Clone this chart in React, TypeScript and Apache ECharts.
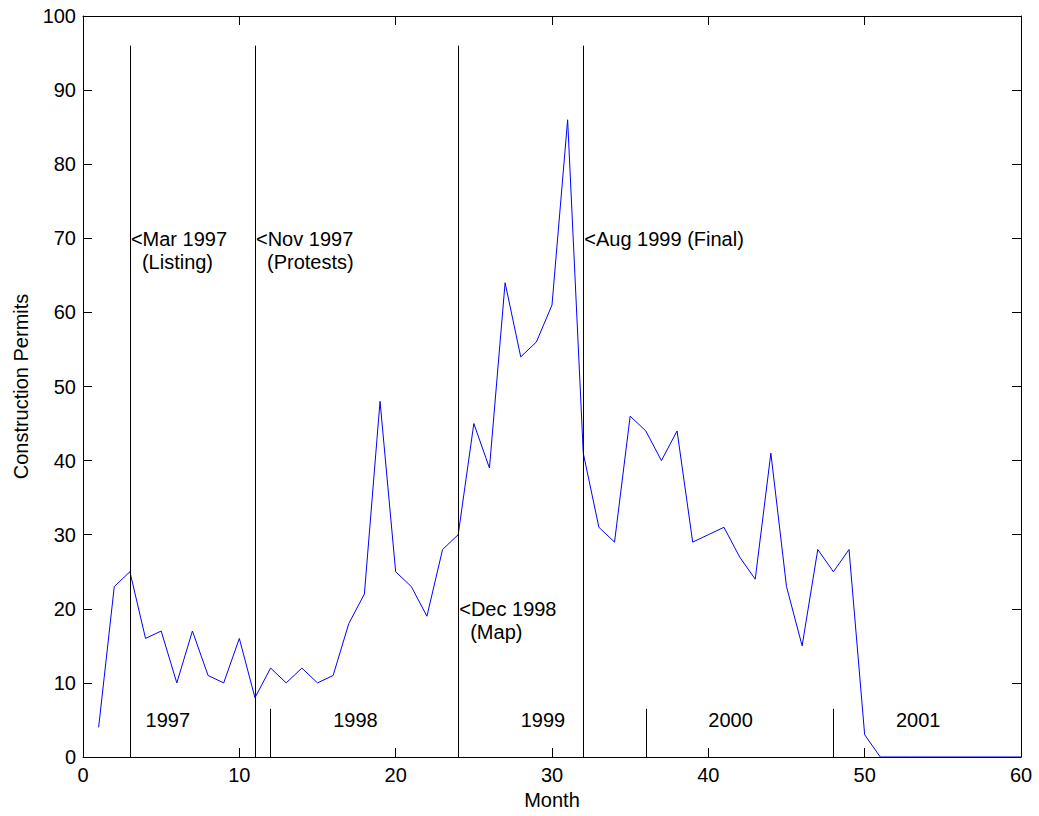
import React, { useEffect, useRef } from "react";
import * as echarts from "echarts";

const months: number[] = Array.from({ length: 60 }, (_, i) => i + 1);
const permits: number[] = [
  4, 23, 25, 16, 17, 10, 17, 11, 10, 16,
  8, 12, 10, 12, 10, 11, 18, 22, 48, 25,
  23, 19, 28, 30, 45, 39, 64, 54, 56, 61,
  86, 41, 31, 29, 46, 44, 40, 44, 29, 30,
  31, 27, 24, 41, 23, 15, 28, 25, 28, 3,
  0, 0, 0, 0, 0, 0, 0, 0, 0, 0,
];

const eventMonths: number[] = [3, 11, 24, 32];
const eventLineTop = 96;
const eventLabelY: number[] = [70, 70, 20, 70];
const eventTitles: string[] = ["<Mar 1997", "<Nov 1997", "<Dec 1998", "<Aug 1999 (Final)"];
const eventNotes: string[] = ["(Listing)", "(Protests)", "(Map)", ""];

const yearBreaks: number[] = [12, 24, 36, 48];
const yearBreakTop = 6.5;
const yearLabels: string[] = ["1997", "1998", "1999", "2000", "2001"];
const yearLabelX: number[] = [4, 16, 28, 40, 52];
const yearLabelY = 5;

const FONT = "'Liberation Sans', Arial, Helvetica, sans-serif";

export default function App() {
  const ref = useRef<HTMLDivElement>(null);
  useEffect(() => {
    if (!ref.current) return;
    document.body.style.margin = "0";
    document.body.style.overflow = "hidden";
    const chart = echarts.init(ref.current, undefined, { renderer: "svg" });
    const lineData = months.map((m, i) => [m, permits[i]]);
    const markLines: any[] = [
      ...eventMonths.map((m) => [{ coord: [m, 0] }, { coord: [m, eventLineTop] }]),
      ...yearBreaks.map((m) => [{ coord: [m, 0] }, { coord: [m, yearBreakTop] }]),
    ];
    const eventData = eventMonths.map((m, i) => ({
      value: [m, eventLabelY[i]],
      title: eventTitles[i],
      note: eventNotes[i],
    }));
    const yearData = yearLabels.map((t, i) => ({ value: [yearLabelX[i], yearLabelY], name: t }));
    const axisCommonX = {
      type: "value" as const,
      min: 0,
      max: 60,
      interval: 10,
      splitLine: { show: false },
      axisLine: { show: true, onZero: false, lineStyle: { color: "#000", width: 1 } },
      axisTick: { show: true, inside: true, length: 9, lineStyle: { color: "#000" } },
    };
    const axisCommonY = {
      type: "value" as const,
      min: 0,
      max: 100,
      interval: 10,
      splitLine: { show: false },
      axisLine: { show: true, onZero: false, lineStyle: { color: "#000", width: 1 } },
      axisTick: { show: true, inside: true, length: 9, lineStyle: { color: "#000" } },
    };
    chart.setOption({
      animation: false,
      backgroundColor: "#fff",
      textStyle: { fontFamily: FONT },
      grid: { left: 83, top: 16, right: 18, bottom: 59, containLabel: false, outerBoundsMode: "none" },
      xAxis: [
        {
          ...axisCommonX,
          position: "bottom",
          name: "Month",
          nameLocation: "middle",
          nameGap: 32,
          nameTextStyle: { color: "#000", fontSize: 20, fontFamily: FONT },
          axisLabel: { color: "#000", fontSize: 20, margin: 8, fontFamily: FONT },
        },
        { ...axisCommonX, position: "top", axisLabel: { show: false } },
      ],
      yAxis: [
        {
          ...axisCommonY,
          position: "left",
          name: "Construction Permits",
          nameLocation: "middle",
          nameGap: 52,
          nameTextStyle: { color: "#000", fontSize: 20, fontFamily: FONT },
          axisLabel: { color: "#000", fontSize: 20, margin: 7, fontFamily: FONT },
        },
        { ...axisCommonY, position: "right", axisLabel: { show: false } },
      ],
      series: [
        {
          type: "line",
          data: lineData,
          symbol: "none",
          lineStyle: { color: "#0000ff", width: 1 },
          itemStyle: { color: "#0000ff" },
          z: 3,
          markLine: {
            silent: true,
            symbol: ["none", "none"],
            label: { show: false },
            lineStyle: { color: "#000", width: 1, type: "solid", opacity: 1 },
            data: markLines,
          },
        },
        {
          type: "scatter",
          data: eventData,
          symbolSize: 0,
          silent: true,
          z: 4,
          itemStyle: { opacity: 1 },
          label: {
            show: true,
            position: [0, 0],
            align: "left",
            verticalAlign: "top",
            offset: [1, -11],
            color: "#000",
            fontSize: 20,
            fontFamily: FONT,
            lineHeight: 23,
            formatter: (p: any) =>
              p.data.note ? `{a|${p.data.title}}\n{b|${p.data.note}}` : `{a|${p.data.title}}`,
            rich: {
              a: { fontSize: 20, lineHeight: 23, color: "#000", fontFamily: FONT },
              b: { fontSize: 20, lineHeight: 23, color: "#000", fontFamily: FONT, padding: [0, 0, 0, 11] },
            },
          },
        },
        {
          type: "scatter",
          data: yearData,
          symbolSize: 0,
          silent: true,
          z: 4,
          itemStyle: { opacity: 1 },
          label: {
            show: true,
            position: [0, 0],
            align: "left",
            verticalAlign: "middle",
            color: "#000",
            fontSize: 20,
            fontFamily: FONT,
            formatter: (p: any) => p.data.name,
          },
        },
      ],
    });
    return () => chart.dispose();
  }, []);
  return <div ref={ref} style={{ width: 1039, height: 816 }} />;
}
